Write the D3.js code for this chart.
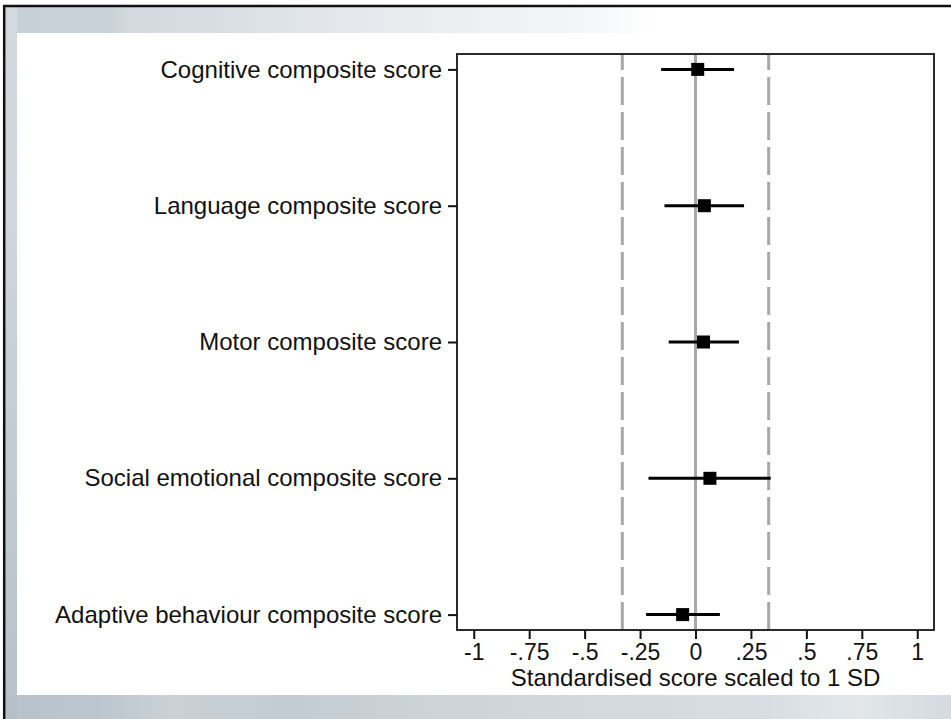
<!DOCTYPE html>
<html>
<head>
<meta charset="utf-8">
<script src="https://cdn.jsdelivr.net/npm/d3@7"></script>
<style>
  html, body { margin: 0; padding: 0; background: #ffffff; }
  svg { display: block; }
  text { font-family: "Liberation Sans", Arial, sans-serif; fill: #111; }
</style>
</head>
<body>
<svg id="chart" width="951" height="719"></svg>
<script>
// Outcome measures (top to bottom)
const outcomes = [
  "Cognitive composite score",
  "Language composite score",
  "Motor composite score",
  "Social emotional composite score",
  "Adaptive behaviour composite score"
];
// Point estimates and 95% confidence limits (standardised, 1 SD units)
const estimates = [0.01, 0.04, 0.036, 0.065, -0.058];
const lowerCI   = [-0.155, -0.14, -0.121, -0.212, -0.223];
const upperCI   = [0.174, 0.219, 0.196, 0.339, 0.11];

// Reference lines: no effect and +/- one third of an SD
const zeroLine = 0;
const thresholdLines = [-0.33, 0.33];

// Horizontal axis ticks
const xTickValues = [-1, -0.75, -0.5, -0.25, 0, 0.25, 0.5, 0.75, 1];
const xTickLabels = ["-1", "-.75", "-.5", "-.25", "0", ".25", ".5", ".75", "1"];
const xTitle = "Standardised score scaled to 1 SD";

const svg = d3.select("#chart");
const W = 951, H = 719;

// ---- slide-style backdrop ----
const defs = svg.append("defs");
const topGrad = defs.append("linearGradient").attr("id", "topBand")
  .attr("x1", "0").attr("x2", "1").attr("y1", "0").attr("y2", "0");
[[0, "#c7d0d7"], [0.11, "#c9d1d8"], [0.13, "#d3d9df"], [0.2, "#d6dce1"],
 [0.33, "#e2e6ea"], [0.5, "#edf0f2"], [0.6, "#f3f5f6"], [0.69, "#ffffff"], [1, "#ffffff"]]
  .forEach(([o, c]) => topGrad.append("stop").attr("offset", o).attr("stop-color", c));

const leftGrad = defs.append("linearGradient").attr("id", "leftBand")
  .attr("x1", "0").attr("x2", "0").attr("y1", "0").attr("y2", "1");
[[0, "#d3d9de"], [0.3, "#cfd6dc"], [0.6, "#c3ccd3"], [1, "#b6c1c9"]]
  .forEach(([o, c]) => leftGrad.append("stop").attr("offset", o).attr("stop-color", c));

const bottomGrad = defs.append("linearGradient").attr("id", "bottomBand")
  .attr("x1", "0").attr("x2", "1").attr("y1", "0").attr("y2", "0");
[[0, "#b8c2ca"], [0.1, "#bcc6ce"], [0.17, "#c9d1d7"], [0.3, "#c3ccd3"],
 [0.45, "#ccd3d9"], [0.6, "#d2d8dd"], [0.8, "#d7dde2"], [0.9, "#e3e7ea"], [1, "#d4dadf"]]
  .forEach(([o, c]) => bottomGrad.append("stop").attr("offset", o).attr("stop-color", c));

svg.append("rect").attr("x", 0).attr("y", 0).attr("width", W).attr("height", H).attr("fill", "#ffffff");
svg.append("rect").attr("x", 5).attr("y", 7).attr("width", W - 5).attr("height", 26).attr("fill", "url(#topBand)");
svg.append("rect").attr("x", 5).attr("y", 7).attr("width", 12).attr("height", H - 7).attr("fill", "url(#leftBand)");
svg.append("rect").attr("x", 5).attr("y", 695).attr("width", W - 5).attr("height", H - 695).attr("fill", "url(#bottomBand)");
svg.append("rect").attr("x", 5).attr("y", 695).attr("width", 12).attr("height", H - 695).attr("fill", "#b4bfc7");
// outer border (top and left)
svg.append("line").attr("x1", 3).attr("x2", W).attr("y1", 6).attr("y2", 6)
  .attr("stroke", "#111").attr("stroke-width", 2.5);
svg.append("line").attr("x1", 4.2).attr("x2", 4.2).attr("y1", 5).attr("y2", H)
  .attr("stroke", "#111").attr("stroke-width", 2.5);

// ---- plot region ----
const plot = { left: 457, right: 934, top: 54, bottom: 630 };

const x = d3.scaleLinear().domain([-1.0755, 1.0755])
  .range([plot.left, plot.right]);
const y = d3.scalePoint().domain(outcomes)
  .range([plot.top, plot.bottom]).padding(0.113);

// reference lines
svg.append("line")
  .attr("x1", x(zeroLine)).attr("x2", x(zeroLine))
  .attr("y1", plot.bottom).attr("y2", plot.top)
  .attr("stroke", "#a8a8a8").attr("stroke-width", 3);

svg.selectAll("line.threshold").data(thresholdLines).enter().append("line")
  .attr("class", "threshold")
  .attr("x1", d => x(d)).attr("x2", d => x(d))
  .attr("y1", plot.bottom).attr("y2", plot.top)
  .attr("stroke", "#a8a8a8").attr("stroke-width", 3)
  .attr("stroke-dasharray", "28,7");

// confidence intervals
svg.selectAll("line.ci").data(outcomes).enter().append("line")
  .attr("class", "ci")
  .attr("x1", (d, i) => x(lowerCI[i])).attr("x2", (d, i) => x(upperCI[i]))
  .attr("y1", d => y(d)).attr("y2", d => y(d))
  .attr("stroke", "#000").attr("stroke-width", 3);

// point estimates
const sq = 13;
svg.selectAll("rect.est").data(outcomes).enter().append("rect")
  .attr("class", "est")
  .attr("x", (d, i) => x(estimates[i]) - sq / 2)
  .attr("y", d => y(d) - sq / 2)
  .attr("width", sq).attr("height", sq)
  .attr("fill", "#000");

// frame
svg.append("rect")
  .attr("x", plot.left).attr("y", plot.top)
  .attr("width", plot.right - plot.left).attr("height", plot.bottom - plot.top)
  .attr("fill", "none").attr("stroke", "#2b2b2b").attr("stroke-width", 2);

// x axis
const xAxis = d3.axisBottom(x)
  .tickValues(xTickValues)
  .tickFormat((d, i) => xTickLabels[i])
  .tickSize(9).tickPadding(5);
const gx = svg.append("g").attr("transform", `translate(0,${plot.bottom})`).call(xAxis);
gx.select(".domain").remove();
gx.selectAll(".tick line").attr("stroke", "#111").attr("stroke-width", 2);
gx.selectAll(".tick text").attr("font-size", 23).attr("fill", "#111")
  .attr("font-family", "'Liberation Sans', Arial, sans-serif");

// y axis
const yAxis = d3.axisLeft(y).tickSize(9).tickPadding(6);
const gy = svg.append("g").attr("transform", `translate(${plot.left},0)`).call(yAxis);
gy.select(".domain").remove();
gy.selectAll(".tick line").attr("stroke", "#111").attr("stroke-width", 2);
gy.selectAll(".tick text").attr("font-size", 24).attr("fill", "#111")
  .attr("font-family", "'Liberation Sans', Arial, sans-serif");

// x title
svg.append("text")
  .attr("x", (plot.left + plot.right) / 2).attr("y", 686)
  .attr("text-anchor", "middle").attr("font-size", 24)
  .text(xTitle);
</script>
</body>
</html>
